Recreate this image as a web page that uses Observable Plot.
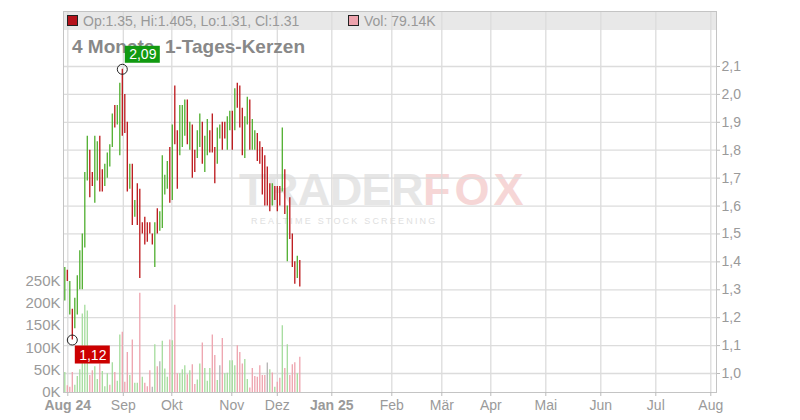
<!DOCTYPE html>
<html><head><meta charset="utf-8">
<script src="https://cdn.jsdelivr.net/npm/d3@7"></script>
<script src="https://cdn.jsdelivr.net/npm/@observablehq/plot@0.6"></script>
<style>
body{margin:0;background:#fff;font-family:"Liberation Sans",Arial,sans-serif;}
#wrap{position:relative;width:800px;height:420px;overflow:hidden;background:#fff}
.layer{position:absolute;left:0;top:0}
#band{position:absolute;left:63px;top:11px;width:653px;height:19px;background:#e8e8e8}
.lg{position:absolute;top:13px;font-size:14px;line-height:16px;color:#999;white-space:nowrap}
.sq{position:absolute;top:15px;width:9px;height:9px;border:1px solid #222}
#title{position:absolute;left:72px;top:36px;font-size:19px;font-weight:bold;color:#888;white-space:nowrap}
#wm1{position:absolute;left:239px;top:168px;font-size:45px;line-height:44px;height:44px;font-weight:bold;color:#e6e6e6;white-space:nowrap;letter-spacing:-0.6px}
#wm1 span{color:#f6d6d6;letter-spacing:4px}
#wm2{position:absolute;left:251px;top:217px;font-size:9px;line-height:9px;letter-spacing:2.2px;color:#e0e0e0;white-space:nowrap}
</style></head><body>
<div id="wrap">
  <div id="band"></div>
  <div id="wm1">TRADER<span>FOX</span></div>
  <div id="wm2">REALTIME STOCK SCREENING</div>
  <div id="price" class="layer"></div>
  <div id="vol" class="layer"></div>
  <span class="sq" style="left:67px;background:#b5121b"></span>
  <span class="lg" style="left:83px">Op:1.35, Hi:1.405, Lo:1.31, Cl:1.31</span>
  <span class="sq" style="left:348px;background:#eea3ad"></span>
  <span class="lg" style="left:364px">Vol: 79.14K</span>
  <div id="title">4 Monate, 1-Tages-Kerzen</div>
  <div id="notes" class="layer"></div>
</div>
<script>
// ---- data (one entry per trading day, Aug 2024 – Dec 2024) ----
const high = [1.38,1.37,1.33,1.23,1.27,1.35,1.44,1.50,1.72,1.85,
  1.80,1.72,1.85,1.83,1.85,1.73,1.75,1.79,1.82,1.93,
  1.96,1.96,2.04,2.09,2.00,1.90,1.75,1.75,1.62,1.68,
  1.66,1.54,1.56,1.54,1.54,1.50,1.54,1.59,1.58,1.78,
  1.71,1.76,1.81,1.89,2.03,1.87,1.96,1.96,1.98,1.98,
  1.90,1.89,1.80,1.87,1.93,1.90,1.85,1.91,1.87,1.93,
  1.81,1.88,1.89,1.90,1.90,1.92,1.94,1.94,2.02,2.04,
  2.03,1.95,1.92,1.99,1.98,1.91,1.87,1.86,1.83,1.81,
  1.78,1.74,1.68,1.68,1.67,1.67,1.67,1.88,1.73,1.60,
  1.63,1.50,1.40,1.42,1.405];
const low = [1.26,1.33,1.21,1.12,1.16,1.21,1.30,1.30,1.45,1.69,
  1.63,1.67,1.61,1.69,1.65,1.65,1.67,1.70,1.74,1.81,
  1.88,1.89,1.78,1.85,1.86,1.65,1.66,1.53,1.56,1.53,
  1.34,1.50,1.46,1.47,1.50,1.46,1.38,1.50,1.51,1.52,
  1.64,1.66,1.61,1.62,1.82,1.66,1.78,1.81,1.85,1.82,
  1.80,1.70,1.72,1.77,1.81,1.75,1.72,1.78,1.79,1.79,
  1.68,1.75,1.84,1.80,1.84,1.80,1.87,1.80,1.87,1.95,
  1.88,1.78,1.77,1.89,1.80,1.80,1.80,1.76,1.75,1.64,
  1.60,1.60,1.58,1.60,1.62,1.58,1.60,1.65,1.57,1.40,
  1.48,1.38,1.32,1.34,1.31];
const candleDir = ("ududuuuuuu"+"dduudduuuu"+"duudddudud"+"dddddduduu"+"uududduuud"+
  "udduuduudd"+"duudduudud"+"dduuduuddd"+"dddudddudu"+"dddud").split("");
const volumeK = [45,15,12,45,16,36,51,176,196,183,
  38,49,58,29,64,47,13,42,16,67,
  45,25,129,135,23,90,38,118,21,21,
  223,34,21,13,49,12,107,58,69,115,
  53,34,118,116,196,42,42,51,60,40,
  49,62,18,28,64,111,54,25,54,129,
  83,27,60,121,42,43,71,71,60,105,
  90,64,74,29,10,54,36,34,60,38,
  38,66,51,44,12,23,32,150,54,107,
  38,62,67,42,79.14];
const volumeDir = ("uddduuuuuu"+"dduuduuudu"+"duuddduduu"+"dudddnudnu"+"uududduuud"+
  "udduuduuud"+"dunduuuuud"+"dduudddddd"+"dnududdudu"+"dddud").split("");
const monthPos = [1.2, 23.4, 42.8, 66.8, 85, 106.8, 130.8, 150.8, 170.4, 192.4, 214.4, 236.4, 258.4];
const monthLabels = ["Aug 24","Sep","Okt","Nov","Dez","Jan 25","Feb","Mär","Apr","Mai","Jun","Jul","Aug"];
const boldMonths = ["Aug 24","Jan 25"];
const priceTicks = [1.0,1.1,1.2,1.3,1.4,1.5,1.6,1.7,1.8,1.9,2.0,2.1];
const volumeTicks = [0,50,100,150,200,250];

// ---- tables built from the arrays ----
const candles = high.map((h, i) => ({i, hi: h, lo: low[i], dir: candleDir[i]}));
const vols = volumeK.map((v, i) => ({i, v, dir: volumeDir[i]}));
const iHi = d3.maxIndex(high), iLo = d3.minIndex(low);
const hiPt = [{i: iHi, y: high[iHi], t: high[iHi].toFixed(2).replace(".", ",")}];
const loPt = [{i: iLo, y: low[iLo], t: low[iLo].toFixed(2).replace(".", ",")}];
const labelOf = new Map(monthPos.map((p, k) => [p, monthLabels[k]]));

const GREEN = "#4fae2e", RED = "#bb1418";
const VCOL = {u: "#a4dc9c", d: "#eea3ad", n: "#b4b4b4"};
const font = "'Liberation Sans', Arial, sans-serif";
const common = {width: 800, height: 420, marginTop: 11, marginBottom: 28, marginLeft: 63, marginRight: 84,
  x: {type: "linear", domain: [-0.52, 260.68], axis: null}};
const priceY = {domain: [0.932, 2.297], axis: null};

const price = Plot.plot({
  ...common,
  y: priceY,
  style: {fontFamily: font, fontSize: "14px", background: "transparent", overflow: "visible"},
  marks: [
    Plot.gridX(monthPos, {stroke: "#dcdcdc", strokeOpacity: 1, strokeWidth: 1.3}),
    Plot.gridY(priceTicks, {stroke: "#dcdcdc", strokeOpacity: 1, strokeWidth: 1.3}),
    Plot.frame({stroke: "#c4c4c4"}),
    Plot.axisX(monthPos.filter(p => !boldMonths.includes(labelOf.get(p))), {tickFormat: p => labelOf.get(p), tickSize: 4, tickPadding: 4, fill: "#9a9a9a", stroke: "#bbb", fontSize: 14, label: null}),
    Plot.axisX(monthPos.filter(p => boldMonths.includes(labelOf.get(p))), {tickFormat: p => labelOf.get(p), tickSize: 4, tickPadding: 4, fill: "#9a9a9a", stroke: "#bbb", fontSize: 14, fontWeight: "bold", label: null}),
    Plot.axisY(priceTicks, {anchor: "right", tickFormat: d => d.toFixed(1).replace(".", ","), tickSize: 3, tickPadding: 2, fill: "#9a9a9a", stroke: "#bbb", fontSize: 14, label: null}),
    Plot.ruleX(candles, {x: "i", y1: "lo", y2: "hi", stroke: d => d.dir === "u" ? GREEN : RED, strokeWidth: 1.3})
  ]
});
document.getElementById("price").append(price);

const vol = Plot.plot({
  ...common,
  y: {domain: [0, 855], axis: null},
  style: {fontFamily: font, fontSize: "15px", background: "transparent", overflow: "visible"},
  marks: [
    Plot.ruleX(vols, {x: "i", y1: 0, y2: "v", stroke: d => VCOL[d.dir], strokeWidth: 1.3}),
    Plot.axisY(volumeTicks, {anchor: "left", tickSize: 0, tickPadding: 3, tickFormat: d => d + "K", fill: "#9a9a9a", fontSize: 15, label: null})
  ]
});
document.getElementById("vol").append(vol);

const notes = Plot.plot({
  ...common,
  y: priceY,
  style: {fontFamily: font, fontSize: "14px", background: "transparent", overflow: "visible"},
  marks: [
    Plot.dot(hiPt.concat(loPt), {x: "i", y: "y", r: 5, stroke: "#222", fill: "none", strokeWidth: 1}),
    Plot.rect(hiPt, {x1: "i", x2: "i", y1: "y", y2: "y", insetLeft: 3, insetRight: -38, insetTop: -23, insetBottom: 6, fill: "#119a11"}),
    Plot.rect(loPt, {x1: "i", x2: "i", y1: "y", y2: "y", insetLeft: 3, insetRight: -38, insetTop: 6, insetBottom: -24, fill: "#cc0000"}),
    Plot.text(hiPt, {x: "i", y: "y", text: "t", dx: 20.5, dy: -14.5, fill: "white", fontSize: 14, textAnchor: "middle", lineAnchor: "middle"}),
    Plot.text(loPt, {x: "i", y: "y", text: "t", dx: 20.5, dy: 15, fill: "white", fontSize: 14, textAnchor: "middle", lineAnchor: "middle"})
  ]
});
document.getElementById("notes").append(notes);
</script>
</body></html>
